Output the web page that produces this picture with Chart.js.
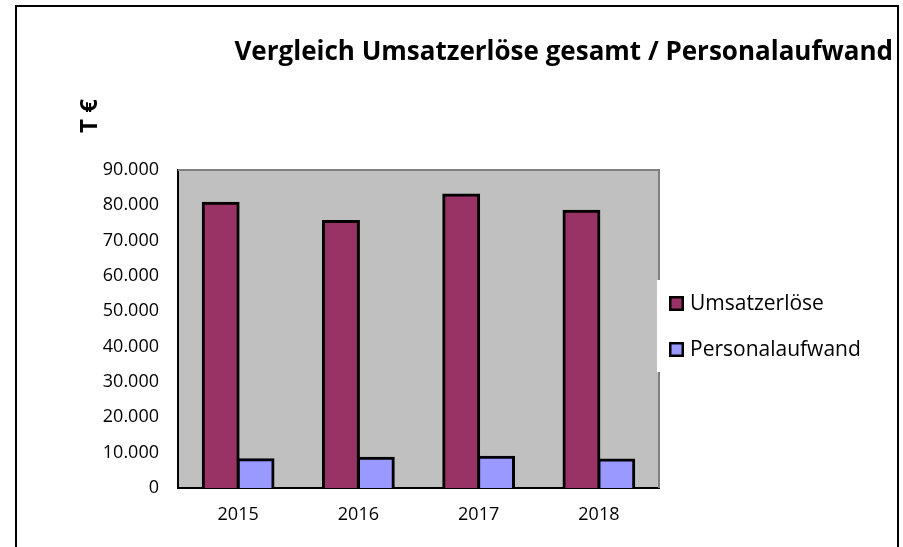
<!DOCTYPE html>
<html>
<head>
<meta charset="utf-8">
<script src="https://cdn.jsdelivr.net/npm/chart.js@4.4.1/dist/chart.umd.min.js"></script>
<style>
  html, body { margin: 0; padding: 0; background: #fff; }
  #wrap { width: 903px; height: 547px; }
</style>
</head>
<body>
<div id="wrap"><canvas id="chart" width="903" height="547"></canvas></div>
<script>
const years = ['2015', '2016', '2017', '2018'];
const umsatz = [80600, 75400, 82900, 78300];
const personal = [8000, 8400, 8700, 7900];
const seriesNames = ['Umsatzerlöse', 'Personalaufwand'];
const seriesColors = ['#993366', '#9999ff'];
const yMax = 90000;
const yStep = 10000;
const chartTitle = 'Vergleich Umsatzerlöse gesamt / Personalaufwand';
const axisTitle = 'T €';

const FONT = "'Open Sans', sans-serif";

// 80000 -> "80.000"
function fmt(v) {
  return String(v).replace(/\B(?=(\d{3})+(?!\d))/g, '.');
}

const frame = {
  id: 'frame',
  beforeDraw(chart) {
    const { ctx, chartArea: a } = chart;
    ctx.save();
    ctx.fillStyle = '#fff';
    ctx.fillRect(0, 0, chart.width, chart.height);
    ctx.fillStyle = '#c0c0c0';
    ctx.fillRect(a.left, a.top, a.right - a.left, a.bottom - a.top);
    ctx.restore();
  },
  beforeDatasetsDraw(chart) {
    const { ctx, chartArea: a } = chart;
    ctx.save();
    ctx.strokeStyle = '#808080';
    ctx.lineWidth = 2;
    ctx.beginPath();
    ctx.moveTo(a.left, a.top);
    ctx.lineTo(a.right, a.top);
    ctx.lineTo(a.right, a.bottom);
    ctx.stroke();
    // legend box covers the right edge of the plot
    ctx.fillStyle = '#fff';
    ctx.fillRect(a.right - 2, 280, 238, 92);
    ctx.restore();
  },
  afterDraw(chart) {
    const { ctx } = chart;
    ctx.save();
    ctx.fillStyle = '#000';

    // title
    ctx.font = 'bold 26px ' + FONT;
    ctx.textAlign = 'right';
    ctx.textBaseline = 'alphabetic';
    ctx.fillText(chartTitle, 893, 60);

    // y axis title
    ctx.save();
    ctx.translate(97, 116);
    ctx.rotate(-Math.PI / 2);
    ctx.font = 'bold 24px ' + FONT;
    ctx.textAlign = 'center';
    ctx.fillText(axisTitle, 0, 0);
    ctx.restore();

    // legend
    ctx.font = '21px ' + FONT;
    ctx.textAlign = 'left';
    chart.data.datasets.forEach((ds, i) => {
      const y = 296 + i * 46;
      ctx.fillStyle = '#000';
      ctx.fillRect(669, y, 15, 15);
      ctx.fillStyle = ds.backgroundColor;
      ctx.fillRect(671.5, y + 2.5, 10, 10);
      ctx.fillStyle = '#000';
      ctx.fillText(ds.label, 690, y + 14);
    });

    // outer frame
    ctx.strokeStyle = '#000';
    ctx.lineWidth = 2;
    ctx.strokeRect(16, 6, 882, 700);
    ctx.restore();
  }
};

Chart.defaults.font.family = FONT;
Chart.defaults.color = '#000';

new Chart(document.getElementById('chart'), {
  type: 'bar',
  data: {
    labels: years,
    datasets: [
      {
        label: seriesNames[0],
        data: umsatz,
        backgroundColor: seriesColors[0],
        borderColor: '#000',
        borderWidth: 3,
        inflateAmount: 1.5,
        categoryPercentage: 0.58,
        barPercentage: 1
      },
      {
        label: seriesNames[1],
        data: personal,
        backgroundColor: seriesColors[1],
        borderColor: '#000',
        borderWidth: 3,
        inflateAmount: 1.5,
        categoryPercentage: 0.58,
        barPercentage: 1
      }
    ]
  },
  options: {
    responsive: false,
    animation: false,
    devicePixelRatio: 1,
    layout: { padding: { top: 170, right: 244, bottom: 0, left: 0 } },
    plugins: {
      legend: { display: false },
      title: { display: false },
      tooltip: { enabled: false }
    },
    scales: {
      x: {
        grid: { display: false, drawTicks: false },
        border: { display: true, color: '#000', width: 2 },
        ticks: { font: { size: 18 }, padding: 16, color: '#000' },
        afterFit(s) { s.height = 59; }
      },
      y: {
        min: 0,
        max: yMax,
        grid: { display: false, drawTicks: false },
        border: { display: true, color: '#000', width: 2 },
        ticks: {
          stepSize: yStep,
          font: { size: 18 },
          padding: 19,
          color: '#000',
          callback: v => fmt(v)
        },
        afterFit(s) { s.width = 178; }
      }
    }
  },
  plugins: [frame]
});
</script>
</body>
</html>
